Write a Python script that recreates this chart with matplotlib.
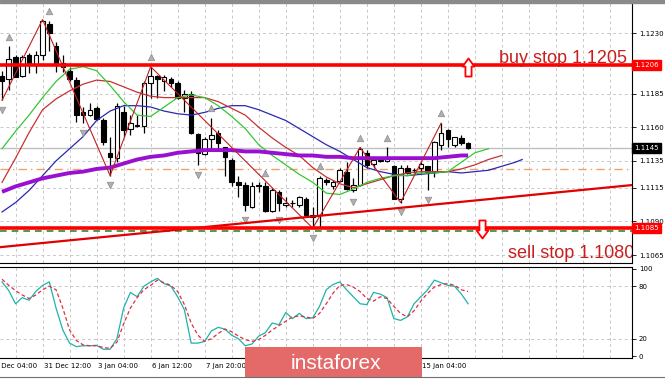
import matplotlib
matplotlib.use("Agg")
import matplotlib.pyplot as plt
from matplotlib.path import Path
from matplotlib.transforms import offset_copy

# H4 candles, oldest first (bar index 0..69)
opens = [1.1198, 1.1196, 1.1212, 1.1198, 1.1214, 1.1206, 1.1214, 1.1237, 1.1220, 1.1208,
         1.1202, 1.1195, 1.1171, 1.1169, 1.1174, 1.1165, 1.1141, 1.1137, 1.1171, 1.1159,
         1.1161, 1.1161, 1.1193, 1.1198, 1.1194, 1.1196, 1.1193, 1.1182, 1.1185, 1.1155,
         1.1140, 1.1151, 1.1156, 1.1145, 1.1136, 1.1119, 1.1117, 1.1101, 1.1117, 1.1116,
         1.1098, 1.1112, 1.1102, 1.1104, 1.1102, 1.1107, 1.1095, 1.1095, 1.1121, 1.1116,
         1.1120, 1.1127, 1.1113, 1.1117, 1.1141, 1.1133, 1.1136, 1.1135, 1.1131, 1.1107,
         1.1130, 1.1128, 1.1130, 1.1131, 1.1127, 1.1147, 1.1158, 1.1147, 1.1152, 1.1148]
highs = [1.1202, 1.1220, 1.1214, 1.1214, 1.1215, 1.1217, 1.1240, 1.1239, 1.1223, 1.1214,
         1.1205, 1.1197, 1.1175, 1.1178, 1.1176, 1.1167, 1.1153, 1.1178, 1.1176, 1.1169,
         1.1169, 1.1194, 1.1205, 1.1199, 1.1199, 1.1197, 1.1194, 1.1188, 1.1187, 1.1156,
         1.1153, 1.1167, 1.1158, 1.1145, 1.1137, 1.1124, 1.1119, 1.1119, 1.1119, 1.1119,
         1.1115, 1.1113, 1.1108, 1.1106, 1.1109, 1.1108, 1.1101, 1.1124, 1.1122, 1.1121,
         1.1130, 1.1134, 1.1122, 1.1145, 1.1143, 1.1138, 1.1138, 1.1145, 1.1132, 1.1132,
         1.1132, 1.1130, 1.1134, 1.1131, 1.1150, 1.1163, 1.1159, 1.1153, 1.1154, 1.1149]
lows = [1.1180, 1.1188, 1.1197, 1.1197, 1.1200, 1.1200, 1.1210, 1.1217, 1.1201, 1.1201,
        1.1194, 1.1164, 1.1163, 1.1168, 1.1165, 1.1147, 1.1124, 1.1134, 1.1153, 1.1154,
        1.1160, 1.1156, 1.1182, 1.1182, 1.1187, 1.1190, 1.1181, 1.1171, 1.1155, 1.1132,
        1.1139, 1.1143, 1.1143, 1.1124, 1.1116, 1.1108, 1.1098, 1.1100, 1.1112, 1.1097,
        1.1097, 1.1098, 1.1101, 1.1101, 1.1101, 1.1094, 1.1085, 1.1085, 1.1117, 1.1114,
        1.1119, 1.1113, 1.1112, 1.1116, 1.1130, 1.1130, 1.1134, 1.1134, 1.1107, 1.1104,
        1.1125, 1.1126, 1.1126, 1.1113, 1.1123, 1.1143, 1.1145, 1.1145, 1.1147, 1.1144]
closes = [1.1194, 1.1211, 1.1197, 1.1212, 1.1208, 1.1214, 1.1239, 1.1230, 1.1208, 1.1205,
          1.1196, 1.1169, 1.1169, 1.1173, 1.1166, 1.1149, 1.1138, 1.1176, 1.1158, 1.1163,
          1.1162, 1.1193, 1.1198, 1.1196, 1.1197, 1.1193, 1.1182, 1.1185, 1.1156, 1.1141,
          1.1151, 1.1154, 1.1148, 1.1138, 1.1119, 1.1117, 1.1102, 1.1116, 1.1116, 1.1098,
          1.1113, 1.1104, 1.1104, 1.1104, 1.1108, 1.1095, 1.1093, 1.1122, 1.1119, 1.1119,
          1.1128, 1.1114, 1.1117, 1.1144, 1.1132, 1.1136, 1.1135, 1.1138, 1.1107, 1.1130,
          1.1126, 1.1128, 1.1133, 1.1127, 1.1149, 1.1156, 1.1151, 1.1153, 1.1148, 1.11445]

# Alligator (shifted forward), sampled every 2 bars
lips_idx = list(range(0, 73, 2))
lips = [1.1144, 1.1157, 1.1169, 1.1182, 1.1194, 1.1203, 1.1205, 1.1202, 1.1191, 1.1179,
        1.1169, 1.1168, 1.1175, 1.1182, 1.1184, 1.1182, 1.1176, 1.1168, 1.1159, 1.1147,
        1.1139, 1.1132, 1.1125, 1.1119, 1.1111, 1.1110, 1.1114, 1.1119, 1.1122, 1.1124,
        1.1124, 1.1126, 1.1126, 1.1127, 1.1134, 1.1141, 1.1144]
teeth_idx = list(range(0, 75, 2))
teeth = [1.1119, 1.1137, 1.1156, 1.1173, 1.1181, 1.1187, 1.1192, 1.1195, 1.1194, 1.1190,
         1.1186, 1.1183, 1.1182, 1.1182, 1.1182, 1.1182, 1.1179, 1.1174, 1.1169, 1.1160,
         1.1152, 1.1145, 1.1139, 1.1130, 1.1123, 1.1118, 1.1115, 1.1118, 1.1121, 1.1124,
         1.1126, 1.1127, 1.1127, 1.1127, 1.1129, 1.1132, 1.1136, 1.1139]
jaw_idx = list(range(0, 77, 2)) + [77]
jaw = [1.1097, 1.1104, 1.1113, 1.1124, 1.1135, 1.1144, 1.1153, 1.1165, 1.1172, 1.1176,
       1.1176, 1.1175, 1.1172, 1.1170, 1.1169, 1.1171, 1.1174, 1.1176, 1.1176, 1.1173,
       1.1169, 1.1165, 1.1159, 1.1153, 1.1147, 1.1142, 1.1136, 1.1130, 1.1127, 1.1125,
       1.1124, 1.1125, 1.1126, 1.1127, 1.1126, 1.1127, 1.1128, 1.1131, 1.1134, 1.1136]
# slow moving average (thick purple)
ma_idx = list(range(0, 69, 2)) + [69]
ma = [1.1112, 1.1116, 1.1119, 1.1122, 1.1124, 1.1126, 1.1127, 1.1129, 1.1130, 1.1133,
      1.1136, 1.1138, 1.1139, 1.1141, 1.1142, 1.1143, 1.1143, 1.1143, 1.1142, 1.1142,
      1.1141, 1.1140, 1.1139, 1.1139, 1.1138, 1.1138, 1.1137, 1.1137, 1.1137, 1.1137,
      1.1137, 1.1137, 1.1137, 1.1138, 1.1139, 1.1139]

# zigzag and fractals
zz_idx = [0, 6, 16, 22, 46, 53, 59, 65]
zz_price = [1.1180, 1.1240, 1.1124, 1.1205, 1.1085, 1.1145, 1.1104, 1.1163]
frac_up = [1, 7, 22, 31, 39, 47, 53, 57, 65]
frac_dn = [0, 12, 16, 29, 36, 41, 46, 52, 59, 63]

# levels
buy_stop = 1.1206
sell_stop = 1.1085
order_line = 1.1083
pivot = 1.1129
bid = 1.11445
trend_idx = [0, 90]
trend_price = [1.1071, 1.11154]
buy_arrow = (69, 1.1205)
sell_arrow = (71, 1.1084)

# stochastic
stoch_k = [85, 75, 60, 67, 64, 74, 81, 85, 55, 30,
           15, 11, 12, 12, 12.5, 8, 8, 20, 55, 73,
           68, 80, 85, 89, 83, 80, 68, 53, 15, 15,
           17, 29, 33, 31, 24, 20, 12, 14, 23, 27,
           38, 36, 50, 43, 49, 43, 44, 57, 76, 82,
           85, 76, 68, 60, 59, 73, 71, 67, 43, 41,
           45, 60, 68, 76, 87, 84, 81, 80, 71, 60]
stoch_d = [88, 81, 75, 70, 66, 70, 76, 80, 76, 55,
           30, 18, 13, 12, 12, 10, 9, 16, 37, 55,
           67, 76, 81, 87, 84, 81, 74, 59, 38, 24,
           17, 20, 26, 31, 28, 23, 19, 17, 19, 24,
           30, 35, 40, 45, 46, 45, 43, 49, 60, 72,
           81, 82, 79, 74, 66, 63, 68, 66, 57, 49,
           45, 52, 63, 72, 79, 82, 83, 81, 76, 74]

price_ticks = [1.1230, 1.1185, 1.1160, 1.1135, 1.1115, 1.1090, 1.1065]
price_labels = ["1.1230", "1.1185", "1.1160", "1.1135", "1.1115", "1.1090", "1.1065"]
# labels between 7 Jan and 15 Jan sit under the watermark, so only the visible ones
time_idx = [-2, 6, 14, 22, 30, 62]
time_labels = ["30 Dec 04:00", "31 Dec 12:00", "3 Jan 04:00", "6 Jan 12:00", "7 Jan 20:00",
               "15 Jan 04:00"]
grid_x = list(range(-2, 94, 4))

W, H = 665, 380
fig = plt.figure(figsize=(W / 100, H / 100), dpi=100)
ax = fig.add_axes([0, 1 - 263 / H, 632 / W, 260 / H])
ax2 = fig.add_axes([0, 1 - 358 / H, 632 / W, 91 / H])

grid_kw = dict(color="#c8c8c8", ls=(0, (3, 3)), lw=0.7, zorder=0.5)
for g in grid_x:
    ax.axvline(g, **grid_kw)
    ax2.axvline(g, **grid_kw)
for p in price_ticks:
    ax.axhline(p, **grid_kw)
for v in [80, 20]:
    ax2.axhline(v, **grid_kw)

# levels
ax.axhline(bid, color="#c0c0c0", lw=1.0, zorder=1)
ax.axhline(pivot, color="#f0a070", lw=1.0, ls=(0, (6, 3, 1, 3)), zorder=1)
ax.axhline(order_line, color="#2e8b2e", lw=1.2, ls=(0, (4, 3)), zorder=1)
ax.axline((trend_idx[0], trend_price[0]), (trend_idx[1], trend_price[1]),
          color="#e00000", lw=1.6, zorder=5)

# candles
idx = list(range(len(opens)))
ax.vlines(idx, lows, highs, color="black", lw=0.9, zorder=3)
for i in idx:
    up = closes[i] >= opens[i]
    ax.bar(i, closes[i] - opens[i], bottom=opens[i], width=0.68,
           color="white" if up else "black", edgecolor="black", lw=0.8, zorder=3.1)

# indicators
ax.plot(jaw_idx, jaw, color="#2828b4", lw=0.9, zorder=4)
ax.plot(teeth_idx, teeth, color="#c83232", lw=0.9, zorder=4)
ax.plot(lips_idx, lips, color="#32c832", lw=0.9, zorder=4)
ax.plot(ma_idx, ma, color="#9a10d0", lw=2.8, solid_capstyle="butt", zorder=4.2)
ax.plot(zz_idx, zz_price, color="#c02020", lw=0.8, zorder=4.5)

up_off = offset_copy(ax.transData, fig=fig, y=7, units="points")
dn_off = offset_copy(ax.transData, fig=fig, y=-7, units="points")
ax.scatter(frac_up, [highs[i] for i in frac_up], marker="^", s=22, c="#b0b0b0",
           edgecolors="#8c8c8c", linewidths=0.5, transform=up_off, zorder=4.6)
ax.scatter(frac_dn, [lows[i] for i in frac_dn], marker="v", s=22, c="#b0b0b0",
           edgecolors="#8c8c8c", linewidths=0.5, transform=dn_off, zorder=4.6)

ax.axhline(buy_stop, color="#ff0000", lw=2.6, zorder=6)
ax.axhline(sell_stop, color="#ff0000", lw=2.6, zorder=6)

up_verts = [(0, 0.5), (0.33, 0.05), (0.17, 0.05), (0.17, -0.5), (-0.17, -0.5),
            (-0.17, 0.05), (-0.33, 0.05), (0, 0.5)]
up_arrow = Path(up_verts, closed=True)
dn_arrow = Path([(x, -y) for x, y in up_verts], closed=True)
ax.plot(*buy_arrow, marker=up_arrow, ms=13, mfc="white", mec="#ff0000", mew=1.3, zorder=7)
ax.plot(*sell_arrow, marker=dn_arrow, ms=13, mfc="white", mec="#ff0000", mew=1.3, zorder=7)

ax.text(92.5, 1.12075, "buy stop 1.1205", ha="right", va="baseline", color="#c81e1e",
        fontsize=13, family="Liberation Sans", zorder=8)
ax.text(74.9, 1.10628, "sell stop 1.1080", ha="left", va="baseline", color="#c81e1e",
        fontsize=13, family="Liberation Sans", zorder=8, clip_on=True)

ax.set_xlim(-0.3, 93.26)
ax.set_ylim(1.10591, 1.12523)
ax.yaxis.tick_right()
ax.set_yticks(price_ticks, price_labels)
ax.set_xticks([])
ax.tick_params(axis="y", length=3, width=0.6, pad=2, labelsize=5)
for s in ["left", "top"]:
    ax.spines[s].set_visible(False)
for s in ["right", "bottom"]:
    ax.spines[s].set_linewidth(0.8)

tr = ax.get_yaxis_transform()
for p, txt, bg in [(buy_stop, "1.1206", "#ff0000"), (bid, "1.1145", "black"),
                   (sell_stop, "1.1085", "#ff0000")]:
    ax.text(1.004, p, txt, transform=tr, ha="left", va="center", fontsize=5,
            color="white", zorder=9,
            bbox=dict(boxstyle="square,pad=0.3", fc=bg, ec=bg))

# stochastic panel
ax2.plot(idx, stoch_k, color="#20b2aa", lw=0.9, zorder=3)
ax2.plot(idx, stoch_d, color="#dc3040", lw=0.9, ls=(0, (3, 2)), zorder=3)
ax2.set_xlim(-0.3, 93.26)
ax2.set_ylim(-2, 102)
ax2.yaxis.tick_right()
ax2.set_yticks([100, 80, 20, 0], ["100", "80", "20", "0"])
ax2.set_xticks([])
ax2.tick_params(axis="y", length=3, width=0.6, pad=2, labelsize=5)
ax2.spines["left"].set_visible(False)
for s in ["right", "bottom", "top"]:
    ax2.spines[s].set_linewidth(0.8)

# time labels start at their grid line (the first one runs off the left edge)
xtr = ax2.get_xaxis_transform()
for t, lab in zip(time_idx, time_labels):
    ax2.text(t + 0.15, -0.055, lab, transform=xtr, ha="left", va="top", fontsize=5,
             clip_on=False)

# window frame bits
fig.add_artist(plt.Rectangle((0, 1 - 3 / H), 1, 3 / H, transform=fig.transFigure,
                             color="#8a8a8a", zorder=10))
fig.add_artist(plt.Line2D([0, 1], [1 - 377 / H] * 2, transform=fig.transFigure,
                          color="#707070", lw=0.8))

# watermark banner
bx = fig.add_axes([245 / W, 1 - 378 / H, 177 / W, 31 / H])
bx.set_facecolor("#e46a6a")
bx.set_xticks([])
bx.set_yticks([])
for s in bx.spines.values():
    s.set_visible(False)
bx.text(0.26, 0.48, "instaforex", color="white", fontsize=15, ha="left", va="center",
        family="Liberation Sans", transform=bx.transAxes)

fig.savefig("out.png", dpi=100)
